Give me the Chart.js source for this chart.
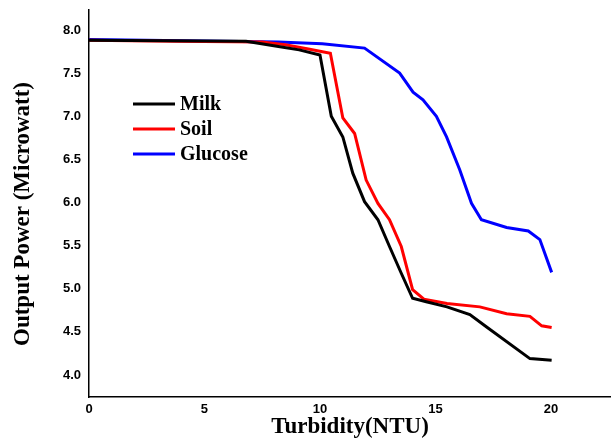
<!DOCTYPE html>
<html>
<head>
<meta charset="utf-8">
<script src="https://cdn.jsdelivr.net/npm/chart.js@4.4.1/dist/chart.umd.min.js"></script>
<style>
  html, body { margin: 0; padding: 0; background: #ffffff; overflow: hidden; }
  #wrap { width: 611px; height: 452px; position: relative; }
</style>
</head>
<body>
<div id="wrap"><canvas id="c"></canvas></div>
<script>
// ---- data ----
const seriesNames = ["Milk", "Soil", "Glucose"];
const seriesColors = ["#000000", "#ff0000", "#0000ff"];

const milkX = [0, 6.8, 8.2, 9.1, 10.0, 10.49, 10.99, 11.42, 11.93, 12.51, 13.01, 13.52, 14.01, 14.6, 15.5, 16.49, 17.2, 19.09, 20.03];
const milkY = [7.88, 7.87, 7.81, 7.77, 7.71, 7.0, 6.76, 6.34, 6.01, 5.80, 5.49, 5.18, 4.89, 4.85, 4.79, 4.70, 4.56, 4.19, 4.17];

const soilX = [0, 3.7, 7.5, 8.5, 9.5, 10.45, 10.99, 11.5, 12.0, 12.51, 13.01, 13.52, 14.01, 14.5, 15.5, 16.92, 18.08, 19.09, 19.6, 20.03];
const soilY = [7.88, 7.87, 7.86, 7.83, 7.78, 7.73, 6.98, 6.80, 6.26, 5.99, 5.80, 5.49, 4.99, 4.88, 4.83, 4.79, 4.71, 4.68, 4.57, 4.55];

const glucoseX = [0, 8.2, 10.1, 11.93, 13.45, 14.03, 14.46, 15.04, 15.48, 16.05, 16.56, 16.99, 18.08, 19.02, 19.52, 20.03];
const glucoseY = [7.89, 7.86, 7.84, 7.79, 7.50, 7.28, 7.19, 7.0, 6.76, 6.38, 5.99, 5.80, 5.71, 5.67, 5.57, 5.19];

const xTicks = [0, 5, 10, 15, 20];
const yTicks = [4.0, 4.5, 5.0, 5.5, 6.0, 6.5, 7.0, 7.5, 8.0];
const xTitle = "Turbidity(NTU)";
const yTitle = "Output Power (Microwatt)";

// ---- build ----
function pts(xs, ys) { return xs.map((x, i) => ({ x: x, y: ys[i] })); }
const allX = [milkX, soilX, glucoseX];
const allY = [milkY, soilY, glucoseY];

const datasets = seriesNames.map((name, i) => ({
  label: name,
  data: pts(allX[i], allY[i]),
  borderColor: seriesColors[i],
  backgroundColor: seriesColors[i],
  borderWidth: 3,
  pointRadius: 0,
  tension: 0,
  fill: false
}));

const serif = "'Liberation Serif', 'Times New Roman', serif";
const sans = "'Liberation Sans', Arial, sans-serif";

const overlay = {
  id: 'overlay',
  afterDraw(chart) {
    const ctx = chart.ctx;
    ctx.save();
    // legend inside plot
    ctx.font = "bold 20px " + serif;
    ctx.textBaseline = 'middle';
    ctx.textAlign = 'left';
    chart.data.datasets.forEach((ds, i) => {
      const y = 104 + 25 * i;
      ctx.strokeStyle = ds.borderColor;
      ctx.lineWidth = 3;
      ctx.beginPath();
      ctx.moveTo(133, y);
      ctx.lineTo(175, y);
      ctx.stroke();
      ctx.fillStyle = '#000';
      ctx.fillText(ds.label, 180, y + 1);
    });
    // y axis title
    ctx.translate(23, 214);
    ctx.rotate(-Math.PI / 2);
    ctx.textAlign = 'center';
    ctx.font = "bold 23px " + serif;
    ctx.fillText(yTitle, 0, 0);
    ctx.restore();
  }
};

new Chart(document.getElementById('c'), {
  type: 'line',
  data: { datasets: datasets },
  options: {
    responsive: true,
    maintainAspectRatio: false,
    animation: false,
    layout: { padding: { top: 10, right: 0, left: 0, bottom: 0 } },
    plugins: { legend: { display: false }, tooltip: { enabled: false } },
    scales: {
      x: {
        type: 'linear',
        min: 0,
        max: 22.6,
        grid: { display: false, drawTicks: false },
        border: { display: true, color: '#000', width: 1.5 },
        afterBuildTicks: (s) => { s.ticks = xTicks.map(v => ({ value: v })); },
        afterFit: (s) => { s.height = 55; s.paddingLeft = 0; s.paddingRight = 0; },
        ticks: {
          color: '#000',
          padding: 5,
          font: { family: sans, size: 13, weight: 'bold' },
          callback: (v) => String(v)
        },
        title: {
          display: true,
          text: xTitle,
          color: '#000',
          font: { family: serif, size: 23, weight: 'bold' },
          padding: { top: 0, bottom: 11 }
        }
      },
      y: {
        type: 'linear',
        min: 3.745,
        max: 8.232,
        grid: { display: false, drawTicks: false },
        border: { display: true, color: '#000', width: 1.5 },
        afterBuildTicks: (s) => { s.ticks = yTicks.map(v => ({ value: v })); },
        afterFit: (s) => { s.width = 89; s.paddingTop = 0; s.paddingBottom = 0; },
        ticks: {
          color: '#000',
          padding: 8,
          font: { family: sans, size: 13, weight: 'bold' },
          callback: (v) => Number(v).toFixed(1)
        }
      }
    }
  },
  plugins: [overlay]
});
</script>
</body>
</html>
